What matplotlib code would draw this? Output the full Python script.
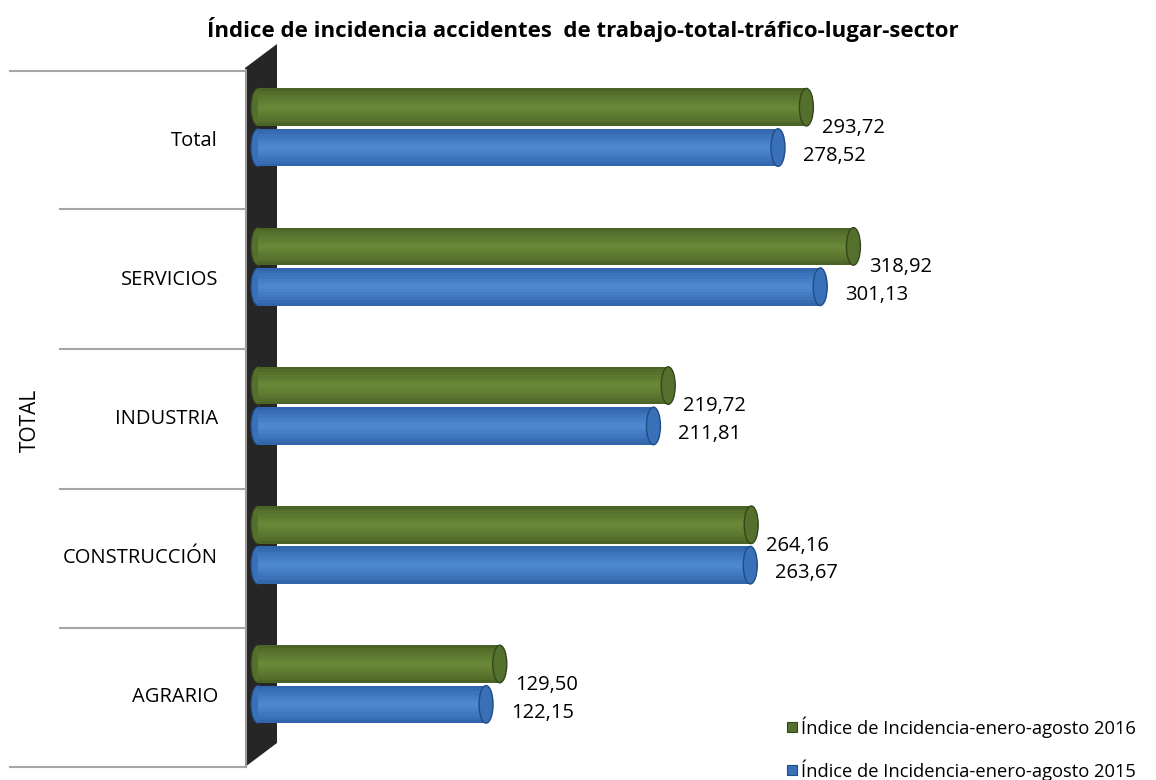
import numpy as np
import matplotlib.pyplot as plt
from matplotlib.patches import Ellipse, Polygon, Rectangle
from matplotlib.lines import Line2D
import matplotlib.colors as mcolors

plt.rcParams['font.family'] = ['Open Sans', 'DejaVu Sans']

# datos
categories = ['AGRARIO', 'CONSTRUCCIÓN', 'INDUSTRIA', 'SERVICIOS', 'Total']
values_2016 = [129.50, 264.16, 219.72, 318.92, 293.72]
values_2015 = [122.15, 263.67, 211.81, 301.13, 278.52]
labels_2016 = ['129,50', '264,16', '219,72', '318,92', '293,72']
labels_2015 = ['122,15', '263,67', '211,81', '301,13', '278,52']
series_names = ['Índice de Incidencia-enero-agosto 2016',
                'Índice de Incidencia-enero-agosto 2015']

W, H = 1156, 780
fig = plt.figure(figsize=(W / 100, H / 100), dpi=100)

# ejes: x = 0 en el pixel 258, 1.867 px por unidad
x0_px, x1_px = 258, 1120
px_per_unit = 1.867
ax = fig.add_axes([x0_px / W, 13 / H, (x1_px - x0_px) / W, 696 / H])
ax.set_zorder(5)
ax.patch.set_visible(False)
ax.set_xlim(0, (x1_px - x0_px) / px_per_unit)
ax.set_ylim(-0.5, 4.5)
ax.axis('off')

y = np.arange(len(categories))
bar_h = 0.27
shift = 0.095
y_green = y + shift + 0.145
y_blue = y + shift - 0.145
cap_w = 14 / px_per_unit


def cylinder(ax, yc, val, light, mid, dark):
    # gradiente vertical con tiras finas
    cmap = mcolors.LinearSegmentedColormap.from_list('c', [dark, mid, light, mid, dark])
    ax.add_patch(Ellipse((0, yc), cap_w, bar_h, facecolor=mid,
                         edgecolor=dark, linewidth=0.8, zorder=1, clip_on=False))
    n = 14
    edges = np.linspace(yc - bar_h / 2, yc + bar_h / 2, n + 1)
    for k in range(n):
        t = (k + 0.5) / n
        ax.barh(edges[k], val, height=edges[k + 1] - edges[k], align='edge',
                color=cmap(0.15 + 0.7 * t), linewidth=0, zorder=2)
    ax.add_patch(Ellipse((val, yc), cap_w, bar_h, facecolor=mid,
                         edgecolor=dark, linewidth=1.0, zorder=3))


for i in range(len(categories)):
    cylinder(ax, y_green[i], values_2016[i], '#6a8a38', '#55702c', '#34461a')
    cylinder(ax, y_blue[i], values_2015[i], '#4f8ad0', '#3a70b8', '#1f4c86')
    ax.annotate(labels_2016[i], (values_2016[i], y_green[i]), xytext=(11, -15),
                textcoords='offset points', ha='left', va='center', fontsize=14.5)
    ax.annotate(labels_2015[i], (values_2015[i], y_blue[i]), xytext=(18, -6),
                textcoords='offset points', ha='left', va='center', fontsize=14.5)

# pared lateral oscura
wall = Polygon([(245 / W, 1 - 68 / H), (277 / W, 1 - 44 / H),
                (277 / W, 1 - 743 / H), (245 / W, 1 - 767 / H)],
               closed=True, transform=fig.transFigure, facecolor='#262626',
               edgecolor='none', zorder=1)
fig.patches.append(wall)
fig.add_artist(Line2D([246 / W, 246 / W], [1 - 70 / H, 1 - 767 / H],
                      color='#9a9a9a', linewidth=1.5, zorder=2))

# lineas separadoras de categorias
sep_y = [71, 209, 349, 489, 628, 767]
for k, sy in enumerate(sep_y):
    xl = 10 if k in (0, len(sep_y) - 1) else 60
    fig.add_artist(Line2D([xl / W, 245 / W], [1 - sy / H, 1 - sy / H],
                          color='#a6a6a6', linewidth=1.5))

for i, cat in enumerate(categories):
    ax.text(-40 / px_per_unit, y[i], cat, ha='right', va='center', fontsize=14.5,
            clip_on=False)

fig.text(30 / W, 1 - 420 / H, 'TOTAL', rotation=90, ha='center', va='center',
         fontsize=15)

fig.text(583 / W, 1 - 29 / H,
         'Índice de incidencia accidentes  de trabajo-total-tráfico-lugar-sector',
         ha='center', va='center', fontsize=16, fontweight='bold')

# leyenda
leg_y = [727, 770]
leg_colors = [('#55702c', '#34461a'), ('#3a70b8', '#1f4c86')]
for k in range(2):
    fig.patches.append(Rectangle((787 / W, 1 - (leg_y[k] + 5) / H), 10 / W, 10 / H,
                                 transform=fig.transFigure,
                                 facecolor=leg_colors[k][0],
                                 edgecolor=leg_colors[k][1], linewidth=0.8))
    fig.text(801 / W, 1 - leg_y[k] / H, series_names[k], ha='left', va='center',
             fontsize=13.2)

fig.savefig('out.png', dpi=100)
